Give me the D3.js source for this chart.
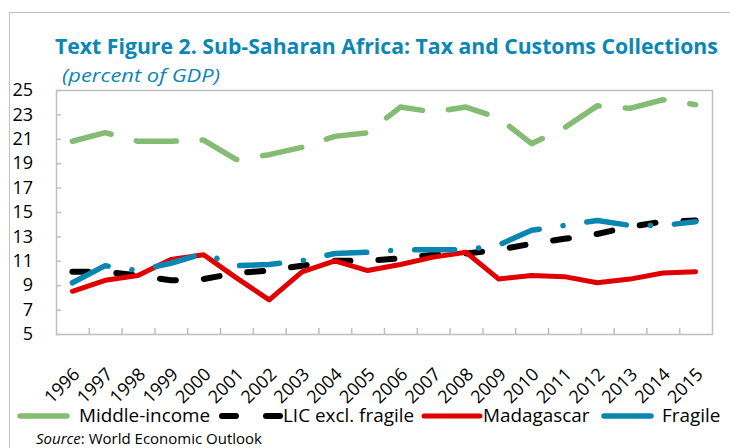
<!DOCTYPE html>
<html>
<head>
<meta charset="utf-8">
<script src="https://cdn.jsdelivr.net/npm/d3@7"></script>
<style>
  body { margin: 0; background: #fff; }
  text { font-family: "Open Sans", "Noto Sans", sans-serif; }
</style>
</head>
<body>
<div id="chart"></div>
<script>
// data
const years = ["1996", "1997", "1998", "1999", "2000", "2001", "2002", "2003", "2004", "2005",
  "2006", "2007", "2008", "2009", "2010", "2011", "2012", "2013", "2014", "2015"];
const middleIncome = [20.8, 21.5, 20.8, 20.8, 20.9, 19.3, 19.7, 20.3, 21.2, 21.5,
  23.6, 23.2, 23.6, 22.7, 20.6, 21.9, 23.7, 23.5, 24.2, 23.8];
const licExclFragile = [10.1, 10.1, 9.8, 9.4, 9.5, 10.0, 10.2, 10.6, 11.0, 11.0,
  11.2, 11.5, 11.6, 11.9, 12.4, 12.8, 13.2, 13.8, 14.2, 14.3];
const madagascar = [8.5, 9.4, 9.8, 11.1, 11.5, 9.6, 7.8, 10.1, 11.0, 10.2,
  10.7, 11.3, 11.7, 9.5, 9.8, 9.7, 9.2, 9.5, 10.0, 10.1];
const fragile = [9.2, 10.6, 10.2, 10.8, 11.6, 10.6, 10.7, 11.0, 11.6, 11.7,
  11.9, 11.9, 11.9, 12.3, 13.5, 13.9, 14.3, 13.9, 13.9, 14.2];
const yTicks = [5, 7, 9, 11, 13, 15, 17, 19, 21, 23, 25];

const series = [
  { name: "Middle-income", values: middleIncome, color: "#84bc74", dash: "40,26", width: 5.5 },
  { name: "LIC excl. fragile", values: licExclFragile, color: "#000000", dash: "16,28", width: 6 },
  { name: "Madagascar", values: madagascar, color: "#e00000", dash: null, width: 5 },
  { name: "Fragile", values: fragile, color: "#0a86b0", dash: "40,24,0.1,24", width: 5.5 }
];

const W = 730, H = 448;
const margin = { top: 90, left: 56, right: 18, bottom: 114 };

const svg = d3.select("#chart").append("svg")
  .attr("width", W)
  .attr("height", H);

// outer frame
svg.append("rect")
  .attr("x", 9.5).attr("y", 12.5)
  .attr("width", W).attr("height", H)
  .attr("fill", "none").attr("stroke", "#c0c0c0");

// squeeze a text horizontally to a given width (the original font is condensed)
function fitWidth(sel, x0, y0, width) {
  const natural = sel.node().getComputedTextLength();
  sel.attr("transform", `translate(${x0},${y0}) scale(${width / natural},1)`);
}

const title = svg.append("text")
  .attr("fill", "#0b86b5")
  .attr("font-weight", "bold")
  .attr("font-size", 22)
  .text("Text Figure 2. Sub-Saharan Africa: Tax and Customs Collections");
fitWidth(title, 55, 54, 663);

const subtitle = svg.append("text")
  .attr("fill", "#0b86b5")
  .attr("font-style", "italic")
  .attr("font-size", 19)
  .text("(percent of GDP)");
fitWidth(subtitle, 62, 82, 158);

const x = d3.scaleBand().domain(years).range([margin.left, W - margin.right]);
const y = d3.scaleLinear().domain([5, 25]).range([H - margin.bottom, margin.top]);

// plot frame
svg.append("rect")
  .attr("x", margin.left + 0.5).attr("y", margin.top + 0.5)
  .attr("width", x.range()[1] - x.range()[0])
  .attr("height", y(5) - y(25))
  .attr("fill", "none").attr("stroke", "#bfbfbf").attr("stroke-width", 1.5);

// y axis
const yAxis = svg.append("g")
  .attr("transform", `translate(${margin.left},0)`)
  .call(d3.axisRight(y).tickValues(yTicks).tickSize(5).tickFormat(d3.format("d")));
yAxis.select(".domain").remove();
yAxis.selectAll(".tick line").attr("stroke", "#bfbfbf").attr("stroke-width", 1.5);
yAxis.selectAll(".tick text")
  .attr("x", -23)
  .attr("text-anchor", "end")
  .attr("fill", "#000")
  .attr("font-size", 18)
  .attr("font-family", "Open Sans, sans-serif");

// x axis: ticks between categories, labels rotated
const xAxis = svg.append("g")
  .attr("transform", `translate(0,${y(5)})`)
  .call(d3.axisBottom(x).tickSize(0));
xAxis.select(".domain").remove();
xAxis.selectAll(".tick text")
  .attr("font-size", 18)
  .attr("fill", "#000")
  .attr("font-family", "Open Sans, sans-serif")
  .attr("text-anchor", "end")
  .attr("transform", "translate(4,37) rotate(-45)")
  .attr("dy", "0.35em")
  .attr("y", 0).attr("x", 0);

svg.append("g").selectAll("line")
  .data(years.slice(1))
  .join("line")
  .attr("x1", d => x(d) + 0.5).attr("x2", d => x(d) + 0.5)
  .attr("y1", y(5)).attr("y2", y(5) - 6)
  .attr("stroke", "#bfbfbf").attr("stroke-width", 1.5);

const line = d3.line()
  .x((d, i) => x(years[i]) + x.bandwidth() / 2)
  .y(d => y(d));

svg.append("g").selectAll("path")
  .data(series)
  .join("path")
  .attr("d", d => line(d.values))
  .attr("fill", "none")
  .attr("stroke", d => d.color)
  .attr("stroke-width", d => d.width)
  .attr("stroke-linecap", "round")
  .attr("stroke-linejoin", "round")
  .attr("stroke-dasharray", d => d.dash);

// legend
const legendItems = [
  { s: series[0], x1: 20, x2: 67, tx: 79 },
  { s: series[1], x1: 222, x2: 280, tx: 283 },
  { s: series[2], x1: 424, x2: 480, tx: 483 },
  { s: series[3], x1: 604, x2: 651, tx: 662 }
];
const legend = svg.append("g");
legendItems.forEach(it => {
  legend.append("line")
    .attr("x1", it.x1).attr("x2", it.x2)
    .attr("y1", 416).attr("y2", 416)
    .attr("stroke", it.s.color)
    .attr("stroke-width", it.s.width)
    .attr("stroke-linecap", "round")
    .attr("stroke-dasharray", it.s.name === "LIC excl. fragile" ? "14,30" : null);
  const t = legend.append("text")
    .attr("font-size", 18)
    .text(it.s.name);
  // stretch slightly: the original legend font is a little wider
  fitWidth(t, it.tx, 422, t.node().getComputedTextLength() * 1.05);
});

const src = svg.append("text").attr("x", 36).attr("y", 444).attr("font-size", 15);
src.append("tspan").attr("font-style", "italic").text("Source");
src.append("tspan").text(": World Economic Outlook");
</script>
</body>
</html>
